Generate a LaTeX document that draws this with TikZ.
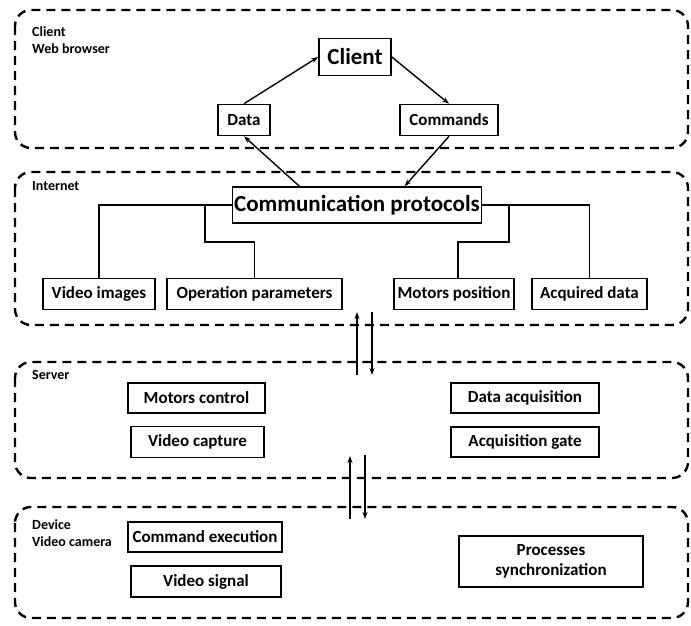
\documentclass[tikz,border=0pt]{standalone}
\usepackage{fontspec}
\setmainfont{Carlito}
\usepackage{tikz}
\usetikzlibrary{arrows.meta,calc}

\tikzset{
  box/.style={draw, line width=1.6pt, inner sep=0pt, font=\bfseries\fontsize{17}{20}\selectfont},
  bigbox/.style={box, font=\bfseries\fontsize{23}{26}\selectfont},
  panel/.style={draw, line width=2.4pt, dash pattern=on 9pt off 6pt, rounded corners=16pt},
  tag/.style={anchor=north west, align=left, inner sep=0pt, font=\bfseries\fontsize{14}{17}\selectfont},
  link/.style={line width=1.4pt, -{Stealth[length=7pt,width=5pt]}},
  wire/.style={line width=1.4pt}
}

\begin{document}
\begin{tikzpicture}[x=1pt, y=-1pt]
            \useasboundingbox (0,0) rectangle (691,625);

            % layers
            \draw [panel] (15,10) rectangle (688,148);
            \draw [panel] (15,172) rectangle (688,325);
            \draw [panel] (15,362) rectangle (688,478);
            \draw [panel] (15,507) rectangle (688,618);

            \node (tclient) at (32,26) [tag] {Client\\Web browser};
            \node (tinternet) at (32,181) [tag] {Internet};
            \node (tserver) at (32,370) [tag] {Server};
            \node (tdevice) at (32,519) [tag] {Device\\Video camera};

            % client
            \node (client) at (355,57) [bigbox, minimum width=72, minimum height=37] {Client};
            \node (data) at (244,120) [box, minimum width=52, minimum height=31] {Data};
            \node (cmds) at (449,120) [box, minimum width=98, minimum height=31] {Commands};

            % internet
            \node (comm) at (357,205) [bigbox, minimum width=249, minimum height=36] {Communication protocols};
            \node (vid) at (99,294) [box, minimum width=112, minimum height=31] {Video images};
            \node (oppar) at (254.5,294) [box, minimum width=175, minimum height=31] {Operation parameters};
            \node (motpos) at (454,294) [box, minimum width=120, minimum height=31] {Motors position};
            \node (acq) at (589.5,294) [box, minimum width=115, minimum height=31] {Acquired data};

            \draw [link] (data.north) -- (client.west);
            \draw [link] (client.east) -- (cmds.north);
            \draw [link] (cmds.south) -- ($(comm.north west)!0.69!(comm.north east)$);
            \draw [link] ($(comm.north west)!0.27!(comm.north east)$) -- (data.south);

            \draw [wire] (comm.west) -| (vid.north);
            \draw [wire] (comm.west -| 205,0) -- (205,242) -| (oppar.north);
            \draw [wire] (comm.east) -| (acq.north);
            \draw [wire] (comm.east -| 509,0) -- (509,242) -| ([xshift=4pt]motpos.north);

            % server
            \node (motctl) at (196.5,398) [box, minimum width=137, minimum height=30] {Motors control};
            \node (vidcap) at (197.5,442) [box, minimum width=133, minimum height=31] {Video capture};
            \node (dataacq) at (525,398) [box, minimum width=148, minimum height=30] {Data acquisition};
            \node (acqgate) at (525,442) [box, minimum width=148, minimum height=30] {Acquisition gate};

            % device
            \node (cmdexec) at (205,537) [box, minimum width=154, minimum height=30] {Command execution};
            \node (vidsig) at (206,581.5) [box, minimum width=150, minimum height=31] {Video signal};
            \node (procsync) at (551,561.5) [box, minimum width=184, minimum height=51, align=center] {Processes\\synchronization};

            % between layers
            \coordinate (up1a) at (357,375);
            \coordinate (up1b) at (357,312);
            \coordinate (dn1a) at (372,312);
            \coordinate (dn1b) at (372,375);
            \coordinate (up2a) at (350,519);
            \coordinate (up2b) at (350,456);
            \coordinate (dn2a) at (365,455);
            \coordinate (dn2b) at (365,519);

            \draw [link, line width=1.8pt] (up1a) -- (up1b);
            \draw [link] (dn1a) -- (dn1b);
            \draw [link, line width=1.8pt] (up2a) -- (up2b);
            \draw [link] (dn2a) -- (dn2b);
        \end{tikzpicture}
\end{document}
